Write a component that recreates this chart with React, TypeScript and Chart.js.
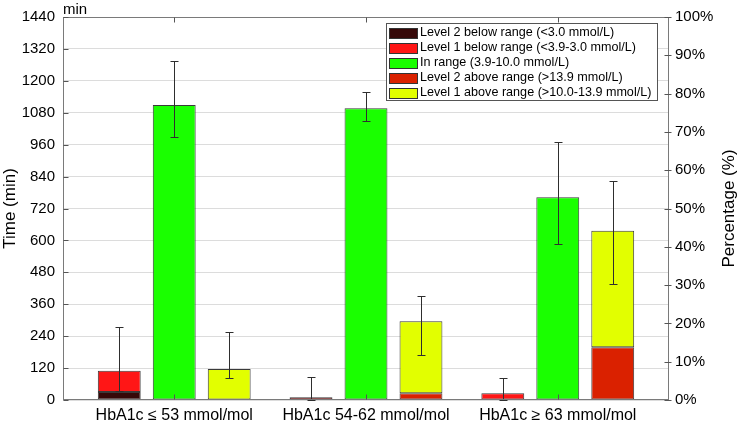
import React, { useEffect, useRef } from 'react';
import { Chart, registerables } from 'chart.js';

Chart.register(...registerables);

// ---- data ----
const categories = ['HbA1c \u2264 53 mmol/mol', 'HbA1c 54-62 mmol/mol', 'HbA1c \u2265 63 mmol/mol'];
const categoryPositions = [1, 2, 3];
const seriesNames = [
  'Level 2 below range (<3.0 mmol/L)',
  'Level 1 below range (<3.9-3.0 mmol/L)',
  'In range (3.9-10.0 mmol/L)',
  'Level 2 above range (>13.9 mmol/L)',
  'Level 1 above range (>10.0-13.9 mmol/L)',
];
const level2Below = [30, 0, 0];
const level1Below = [80, 10, 25];
const inRange = [1109, 1097, 762];
const level2Above = [0, 25, 198];
const level1Above = [117, 271, 438];

const belowErrLow = [35, 0, 0];
const belowErrHigh = [273, 88, 82];
const inErrLow = [987, 1048, 588];
const inErrHigh = [1274, 1158, 971];
const aboveErrLow = [82, 168, 435];
const aboveErrHigh = [254, 390, 823];

const timeMax = 1440;
const timeStep = 120;
const percentMax = 100;
const percentStep = 10;

const FONT = "'Liberation Sans', Arial, Helvetica, sans-serif";

export default function App() {
  const ref = useRef<HTMLCanvasElement>(null);

  useEffect(() => {
    const canvas = ref.current!;
    const colors = ['#360808', '#ff1616', '#1aff00', '#da2100', '#e2ff00'];
    const seriesData = [level2Below, level1Below, inRange, level2Above, level1Above];
    const stacks = ['below', 'below', 'in', 'above', 'above'];

    const datasets = seriesNames.map((name, i) => ({
      label: name,
      data: categoryPositions.map((x, j) => ({ x, y: seriesData[i][j] === 0 ? null : seriesData[i][j] })),
      backgroundColor: colors[i],
      borderColor: '#3a3a3a',
      borderWidth: 1,
      borderSkipped: false as const,
      stack: stacks[i],
      categoryPercentage: 0.86,
      barPercentage: 0.78,
      xAxisID: 'x',
      yAxisID: 'y',
    }));

    const decor = {
      id: 'matlabDecor',
      afterDatasetsDraw(chart: any) {
        const ctx = chart.ctx as CanvasRenderingContext2D;
        const { left, right, top, bottom } = chart.chartArea;
        const xs = chart.scales.x;
        const ys = chart.scales.y;
        const y1 = chart.scales.y1;
        ctx.save();

        // error bars
        const errs: [number[], number[], number][] = [
          [belowErrLow, belowErrHigh, 1],
          [inErrLow, inErrHigh, 2],
          [aboveErrLow, aboveErrHigh, 4],
        ];
        ctx.strokeStyle = '#2e2e2e';
        ctx.lineWidth = 1;
        errs.forEach(([lo, hi, di]) => {
          const meta = chart.getDatasetMeta(di);
          meta.data.forEach((bar: any, j: number) => {
            const cx = Math.round(bar.x) + 0.5;
            const yl = Math.round(ys.getPixelForValue(lo[j])) + 0.5;
            const yh = Math.round(ys.getPixelForValue(hi[j])) + 0.5;
            ctx.beginPath();
            ctx.moveTo(cx, yl);
            ctx.lineTo(cx, yh);
            ctx.moveTo(cx - 4, yl);
            ctx.lineTo(cx + 4, yl);
            ctx.moveTo(cx - 4, yh);
            ctx.lineTo(cx + 4, yh);
            ctx.stroke();
          });
        });

        // axes box
        ctx.strokeStyle = '#7a7a7a';
        ctx.lineWidth = 1;
        const L = Math.round(left) + 0.5, R = Math.round(right) - 0.5;
        const T = Math.round(top) + 0.5, B = Math.round(bottom) - 0.5;
        ctx.strokeRect(L, T, R - L, B - T);

        // tick marks
        ctx.strokeStyle = '#555';
        ctx.beginPath();
        for (let v = 0; v <= timeMax; v += timeStep) {
          const py = Math.round(ys.getPixelForValue(v)) + 0.5;
          ctx.moveTo(L, py);
          ctx.lineTo(L + 5, py);
        }
        for (let p = 0; p <= percentMax; p += percentStep) {
          const py = Math.round(y1.getPixelForValue(p)) + 0.5;
          ctx.moveTo(R - 4, py);
          ctx.lineTo(R + 3, py);
        }
        categoryPositions.forEach((c) => {
          const px = Math.round(xs.getPixelForValue(c)) + 0.5;
          ctx.moveTo(px, B);
          ctx.lineTo(px, B - 5);
          ctx.moveTo(px, T);
          ctx.lineTo(px, T + 5);
        });
        ctx.stroke();

        // "min" unit label
        ctx.fillStyle = '#000';
        ctx.font = `15px ${FONT}`;
        ctx.textAlign = 'left';
        ctx.textBaseline = 'alphabetic';
        ctx.fillText('min', left, top - 3);

        // axis titles
        ctx.font = `17px ${FONT}`;
        ctx.textAlign = 'center';
        ctx.textBaseline = 'middle';
        const midY = (top + bottom) / 2;
        ctx.save();
        ctx.translate(10, midY);
        ctx.rotate(-Math.PI / 2);
        ctx.fillText('Time (min)', 0, 0);
        ctx.restore();
        ctx.save();
        ctx.translate(729, midY);
        ctx.rotate(-Math.PI / 2);
        ctx.fillText('Percentage (%)', 0, 0);
        ctx.restore();

        // legend
        const lx = 386.5, ly = 23.5, lw = 271, lh = 77;
        ctx.fillStyle = '#fff';
        ctx.fillRect(lx, ly, lw, lh);
        ctx.strokeStyle = '#555';
        ctx.strokeRect(lx, ly, lw, lh);
        ctx.font = `12.6px ${FONT}`;
        ctx.textAlign = 'left';
        ctx.textBaseline = 'middle';
        seriesNames.forEach((name, i) => {
          const cy = ly + 9 + i * 15;
          ctx.fillStyle = colors[i];
          ctx.fillRect(389.5, Math.round(cy - 5) + 0.5, 28, 10);
          ctx.strokeStyle = '#333';
          ctx.strokeRect(389.5, Math.round(cy - 5) + 0.5, 28, 10);
          ctx.fillStyle = '#000';
          ctx.fillText(name, 420, cy + 0.5);
        });

        ctx.restore();
      },
    };

    const chart = new Chart(canvas, {
      type: 'bar',
      data: { datasets: datasets as any },
      options: {
        animation: false,
        responsive: true,
        maintainAspectRatio: false,
        layout: { padding: { top: 16, left: 0, right: 0, bottom: 0 } },
        plugins: { legend: { display: false }, tooltip: { enabled: false } },
        scales: {
          x: {
            type: 'linear',
            min: 0.42,
            max: 3.58,
            offset: false,
            grid: { display: false, offset: false, drawTicks: false },
            border: { display: false },
            afterBuildTicks: (scale: any) => {
              scale.ticks = categoryPositions.map((v) => ({ value: v }));
            },
            afterFit: (scale: any) => {
              scale.height = 24;
            },
            ticks: {
              autoSkip: false,
              maxRotation: 0,
              padding: 6,
              color: '#000',
              font: { family: FONT, size: 16 },
              callback: (_v: any, i: number) => categories[i],
            },
          },
          y: {
            type: 'linear',
            position: 'left',
            stacked: true,
            min: 0,
            max: timeMax,
            grid: { color: '#dcdcdc', drawTicks: false },
            border: { display: false },
            afterFit: (scale: any) => {
              scale.width = 63;
            },
            ticks: {
              stepSize: timeStep,
              padding: 8,
              color: '#000',
              font: { family: FONT, size: 15 },
              callback: (v: any) => String(v),
            },
          },
          y1: {
            type: 'linear',
            position: 'right',
            min: 0,
            max: percentMax,
            grid: { display: false, drawTicks: false },
            border: { display: false },
            afterFit: (scale: any) => {
              scale.width = 73;
            },
            ticks: {
              stepSize: percentStep,
              padding: 6,
              color: '#000',
              font: { family: FONT, size: 15 },
              callback: (v: any) => `${v}%`,
            },
          },
        },
      },
      plugins: [decor],
    } as any);

    return () => chart.destroy();
  }, []);

  return (
    <div style={{ position: 'fixed', left: 0, top: 0, width: 742, height: 424, background: '#fff' }}>
      <canvas ref={ref} />
    </div>
  );
}
